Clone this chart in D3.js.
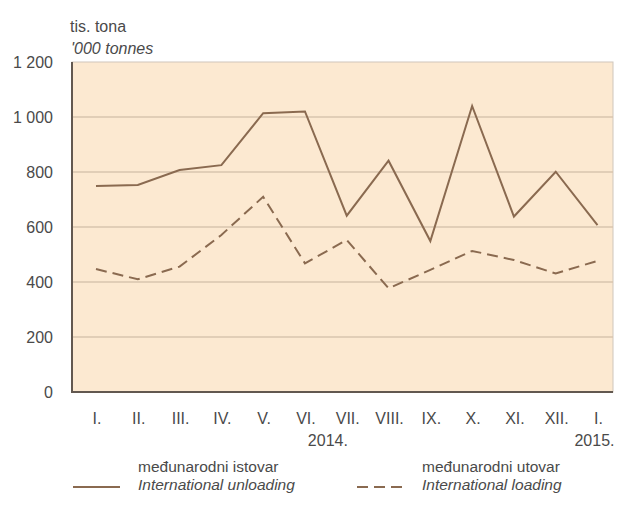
<!DOCTYPE html>
<html>
<head>
<meta charset="utf-8">
<script src="https://cdn.jsdelivr.net/npm/d3@7"></script>
<style>
  body { margin: 0; background: #fff; }
  text { font-family: "Liberation Sans", Arial, sans-serif; fill: #4a4a4a; }
</style>
</head>
<body>
<div id="vis"></div>
<script>
var months = ["I.", "II.", "III.", "IV.", "V.", "VI.", "VII.", "VIII.", "IX.", "X.", "XI.", "XII.", "I."];
var years = ["2014.", "2015."];
var yTicks = [0, 200, 400, 600, 800, 1000, 1200];

// medunarodni istovar / International unloading
var unloading = [749, 753, 807, 825, 1014, 1020, 641, 841, 549, 1040, 638, 801, 607];
// medunarodni utovar / International loading
var loading = [447, 410, 456, 571, 710, 468, 553, 377, 444, 513, 480, 431, 477];

var width = 618, height = 506;
var plot = {left: 72, right: 613, top: 62, bottom: 392};

var lineColor = "#8a6a50";

var svg = d3.select("#vis")
            .append("svg")
            .attr("width", width)
            .attr("height", height);

var x = d3.scalePoint()
          .domain(d3.range(months.length))
          .range([plot.left + 24, plot.right - 15.5]);

var y = d3.scaleLinear()
          .domain([0, 1200])
          .range([plot.bottom, plot.top]);

////////// plot area //////////

svg.append("rect")
   .attr("x", plot.left)
   .attr("y", plot.top)
   .attr("width", plot.right - plot.left)
   .attr("height", plot.bottom - plot.top)
   .attr("fill", "#fce9d1")
   .attr("stroke", "#cfc6bc")
   .attr("stroke-width", 1);

svg.append("g")
   .selectAll("line")
   .data(yTicks.filter(function(d) { return d > 0 && d < 1200; }))
   .enter()
   .append("line")
   .attr("x1", plot.left)
   .attr("x2", plot.right)
   .attr("y1", function(d) { return y(d); })
   .attr("y2", function(d) { return y(d); })
   .attr("stroke", "#d9c5ae")
   .attr("stroke-width", 1.5);

// left + bottom axis lines
svg.append("path")
   .attr("d", "M" + plot.left + "," + plot.top + "V" + plot.bottom + "H" + plot.right)
   .attr("fill", "none")
   .attr("stroke", "#625850")
   .attr("stroke-width", 2);

////////// axis labels //////////

var fmt = function(d) { return d3.format(",")(d).replace(",", " "); };

svg.append("g")
   .selectAll("text")
   .data(yTicks)
   .enter()
   .append("text")
   .attr("x", 53)
   .attr("y", function(d) { return y(d) + 6; })
   .attr("text-anchor", "end")
   .style("font-size", "16px")
   .text(fmt);

svg.append("g")
   .selectAll("text")
   .data(months)
   .enter()
   .append("text")
   .attr("x", function(d, i) { return x(i) + 1; })
   .attr("y", 424)
   .attr("text-anchor", "middle")
   .style("font-size", "16px")
   .text(function(d) { return d; });

svg.append("text")
   .attr("x", (x(5) + x(6)) / 2 + 2)
   .attr("y", 446)
   .attr("text-anchor", "middle")
   .style("font-size", "16px")
   .text(years[0]);

svg.append("text")
   .attr("x", x(12) - 3)
   .attr("y", 446)
   .attr("text-anchor", "middle")
   .style("font-size", "16px")
   .text(years[1]);

svg.append("text")
   .attr("x", 70)
   .attr("y", 32)
   .style("font-size", "16px")
   .text("tis. tona");

svg.append("text")
   .attr("x", 71)
   .attr("y", 54)
   .style("font-size", "16px")
   .style("font-style", "italic")
   .text("'000 tonnes");

////////// lines //////////

var line = d3.line()
             .x(function(d, i) { return x(i); })
             .y(function(d) { return y(d); });

svg.append("path")
   .datum(loading)
   .attr("d", line)
   .attr("fill", "none")
   .attr("stroke", lineColor)
   .attr("stroke-width", 2)
   .attr("stroke-dasharray", "11,6");

svg.append("path")
   .datum(unloading)
   .attr("d", line)
   .attr("fill", "none")
   .attr("stroke", lineColor)
   .attr("stroke-width", 2);

////////// legend //////////

var legend = [
  {hr: "međunarodni istovar", en: "International unloading", dash: null, x: 73},
  {hr: "međunarodni utovar", en: "International loading", dash: "11,6", x: 357}
];

var items = svg.selectAll(".legend")
               .data(legend)
               .enter()
               .append("g")
               .attr("class", "legend")
               .attr("transform", function(d) { return "translate(" + d.x + ",0)"; });

items.append("line")
     .attr("x1", 0)
     .attr("x2", 47)
     .attr("y1", 487)
     .attr("y2", 487)
     .attr("stroke", lineColor)
     .attr("stroke-width", 2)
     .attr("stroke-dasharray", function(d) { return d.dash; });

items.append("text")
     .attr("x", 65)
     .attr("y", 472)
     .style("font-size", "15.5px")
     .text(function(d) { return d.hr; });

items.append("text")
     .attr("x", 65)
     .attr("y", 490)
     .style("font-size", "15.5px")
     .style("font-style", "italic")
     .text(function(d) { return d.en; });
</script>
</body>
</html>
